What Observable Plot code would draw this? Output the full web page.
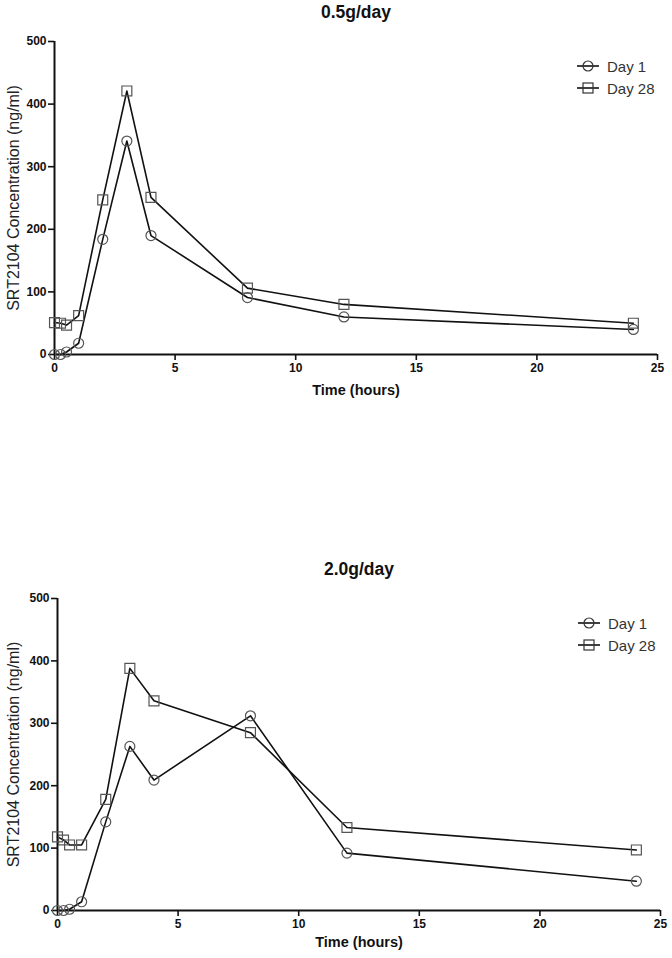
<!DOCTYPE html>
<html><head><meta charset="utf-8">
<script src="https://cdn.jsdelivr.net/npm/d3@7"></script>
<script src="https://cdn.jsdelivr.net/npm/@observablehq/plot@0.6"></script>
<style>
body{margin:0;background:#fff;font-family:Arial,"Liberation Sans",sans-serif;}
#wrap{position:relative;width:672px;height:958px;}
.panel{position:relative;width:672px;height:479px;}
.legend{position:absolute;font-size:15px;color:#333;font-family:Arial,"Liberation Sans",sans-serif;}
.legend .row{display:flex;align-items:center;height:22px;}
.legend svg{margin-right:7px;}
</style>
</head><body><div id="wrap"></div>
<script>
// ---- data ----
const times = [0, 0.25, 0.5, 1, 2, 3, 4, 8, 12, 24];
const seriesNames = ["Day 1", "Day 28"];
const titles = ["0.5g/day", "2.0g/day"];
const low_day1  = [0, 0, 4, 18, 184, 341, 190, 91, 60, 40];
const low_day28 = [51, 50, 47, 62, 247, 421, 251, 106, 80, 50];
const high_day1  = [0, 0, 2, 14, 142, 263, 209, 312, 92, 47];
const high_day28 = [118, 113, 105, 105, 178, 388, 336, 285, 133, 97];
const xTicks = [0, 5, 10, 15, 20, 25];
const yTicks = [0, 100, 200, 300, 400, 500];
const xLabel = "Time (hours)";
const yLabel = "SRT2104 Concentration (ng/ml)";

// ---- layout ----
const layouts = [
  {mt: 41, mb: 125, ml: 54, mr: 15, titleDy: -29, xlabDy: 36, ylabDx: -41, legTop: 55, legLeft: 576},
  {mt: 119, mb: 48, ml: 57, mr: 12, titleDy: -29, xlabDy: 32, ylabDx: -44, legTop: 133, legLeft: 577}
];
const seriesData = [[low_day1, low_day28], [high_day1, high_day28]];
const FONT = "Arial, 'Liberation Sans', sans-serif";
const wrap = document.getElementById("wrap");

seriesData.forEach((pair, i) => {
  const L = layouts[i];
  const rows = [];
  pair.forEach((vals, s) => times.forEach((t, k) => rows.push({t, v: vals[k], series: seriesNames[s]})));
  const d1 = rows.filter(d => d.series === seriesNames[0]);
  const d28 = rows.filter(d => d.series === seriesNames[1]);
  const chart = Plot.plot({
    width: 672, height: 479,
    marginTop: L.mt, marginBottom: L.mb, marginLeft: L.ml, marginRight: L.mr,
    style: {fontFamily: FONT, background: "#fff", overflow: "visible"},
    x: {domain: [0, 25]},
    y: {domain: [0, 500]},
    marks: [
      Plot.axisX({ticks: xTicks, tickSize: 6, tickPadding: 3, fontSize: 12, fontWeight: "bold", fill: "#111", stroke: "#111", strokeWidth: 1.6, label: null}),
      Plot.axisY({ticks: yTicks, tickSize: 6, tickPadding: 2, fontSize: 12, fontWeight: "bold", fill: "#111", stroke: "#111", strokeWidth: 1.6, label: null}),
      Plot.ruleY([0], {stroke: "#111", strokeWidth: 2}),
      Plot.ruleX([0], {stroke: "#111", strokeWidth: 2}),
      Plot.line(rows, {x: "t", y: "v", z: "series", stroke: "#111", strokeWidth: 1.6}),
      Plot.dot(d1, {x: "t", y: "v", symbol: "circle", r: 5, stroke: "#555", strokeWidth: 1.2, fill: "none"}),
      Plot.dot(d28, {x: "t", y: "v", symbol: "square", r: 5.6, stroke: "#555", strokeWidth: 1.2, fill: "none"}),
      Plot.text([titles[i]], {frameAnchor: "top", dy: L.titleDy, lineAnchor: "middle", fontSize: 17.5, fontWeight: "bold", fill: "#111"}),
      Plot.text([xLabel], {frameAnchor: "bottom", dy: L.xlabDy, lineAnchor: "middle", fontSize: 14.5, fontWeight: "bold", fill: "#111"}),
      Plot.text([yLabel], {frameAnchor: "left", dx: L.ylabDx, rotate: -90, lineAnchor: "middle", textAnchor: "middle", fontSize: 16, fill: "#222"})
    ]
  });
  const panel = document.createElement("div");
  panel.className = "panel";
  panel.appendChild(chart);
  const leg = document.createElement("div");
  leg.className = "legend";
  leg.style.top = L.legTop + "px";
  leg.style.left = L.legLeft + "px";
  seriesNames.forEach((name, s) => {
    const row = document.createElement("div");
    row.className = "row";
    const sym = s === 0
      ? '<circle cx="12" cy="11" r="5" fill="none" stroke="#333" stroke-width="1.2"/>'
      : '<rect x="7" y="6" width="10" height="10" fill="none" stroke="#333" stroke-width="1.2"/>';
    row.innerHTML = '<svg width="24" height="22"><line x1="1" x2="23" y1="11" y2="11" stroke="#111" stroke-width="1.6"/>' + sym + '</svg><span>' + name + '</span>';
    leg.appendChild(row);
  });
  panel.appendChild(leg);
  wrap.appendChild(panel);
});
</script>
</body></html>
